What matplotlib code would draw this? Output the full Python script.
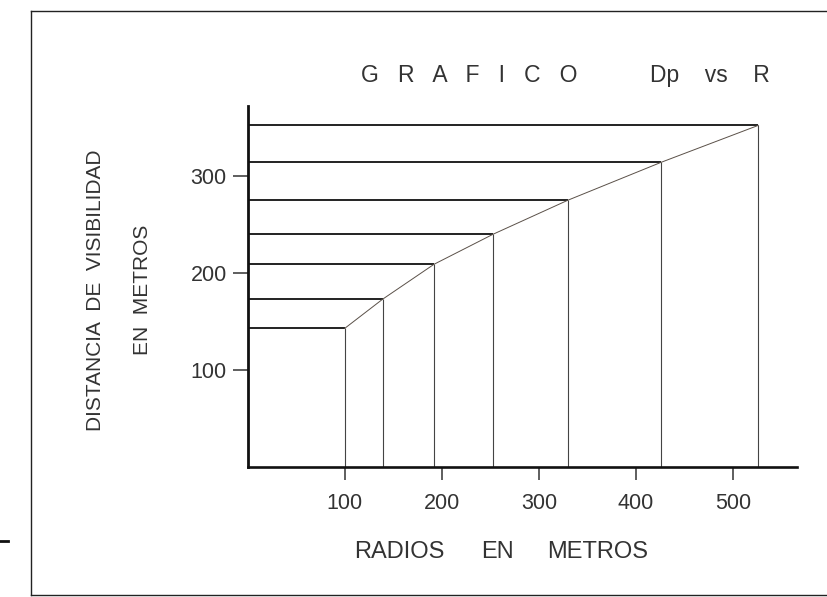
import matplotlib
matplotlib.use("Agg")
import matplotlib.pyplot as plt
from matplotlib.lines import Line2D

# radio de curva (m) vs distancia de visibilidad (m)
radios = [100, 139, 192, 253, 330, 426, 526]
distancia = [143, 173, 209, 240, 275, 314, 352]
xticks = [100, 200, 300, 400, 500]
yticks = [100, 200, 300]

plt.rcParams['font.family'] = ['Liberation Sans', 'DejaVu Sans']

W, H = 827, 597
fig = plt.figure(figsize=(W / 100, H / 100), dpi=100)


def px(x, y):
    # pixel coords (from top-left) -> figure fraction
    return x / W, 1 - y / H


# axes box: x axis from px 247.7 to 797, y axis from 467.2 up to 106
ax = fig.add_axes([247.7 / W, (H - 467.2) / H, (797 - 247.7) / W, (467.2 - 106) / H])
ax.set_xlim(0, 566)
ax.set_ylim(0, 372)

ax.hlines(distancia, 0, radios, colors='#111111', lw=1.3)
ax.vlines(radios, 0, distancia, colors='#444444', lw=0.8)
ax.plot(radios, distancia, color='#5a5048', lw=0.7)

for s in ['top', 'right']:
    ax.spines[s].set_visible(False)
ax.spines['left'].set_linewidth(2.0)
ax.spines['bottom'].set_linewidth(1.9)
ax.spines['left'].set_color('#111111')
ax.spines['bottom'].set_color('#111111')

ax.set_xticks(xticks)
ax.set_yticks(yticks)
ax.tick_params(axis='x', length=9.4, width=1.1, pad=9, labelsize=15.5, labelcolor='#333333', color='#333333')
ax.tick_params(axis='y', length=10.8, width=1.1, pad=4.3, labelsize=15.5, labelcolor='#333333', color='#333333')

# titulo
x0, y0 = px(361, 81.7)
fig.text(x0, y0, "G   R   A   F   I   C   O", fontsize=16.5, color='#333333', ha='left', va='baseline')
x0, y0 = px(650, 81.7)
fig.text(x0, y0, "Dp    vs    R", fontsize=16.5, color='#333333', ha='left', va='baseline')

# etiqueta eje x
for word, cx in [("RADIOS", 399), ("EN", 497), ("METROS", 598)]:
    x0, y0 = px(cx, 558)
    fig.text(x0, y0, word, fontsize=17, color='#333333', ha='center', va='baseline')

# etiqueta eje y
x0, y0 = px(96, 290)
fig.text(x0, y0, "DISTANCIA  DE  VISIBILIDAD", fontsize=15, color='#333333', rotation=90, ha='center', va='center')
x0, y0 = px(142, 290)
fig.text(x0, y0, "EN  METROS", fontsize=15, color='#333333', rotation=90, ha='center', va='center')

# marco de la hoja
frame = [((31, 11), (W, 11)), ((31, 11), (31, 595)), ((31, 595), (W, 595))]
for (xa, ya), (xb, yb) in frame:
    (fx0, fy0), (fx1, fy1) = px(xa, ya), px(xb, yb)
    fig.add_artist(Line2D([fx0, fx1], [fy0, fy1], transform=fig.transFigure, color='#222222', lw=1.0))
# marca suelta a la izquierda
(fx0, fy0), (fx1, fy1) = px(0, 541), px(8, 541)
fig.add_artist(Line2D([fx0, fx1], [fy0, fy1], transform=fig.transFigure, color='#111111', lw=2.0))

fig.savefig("out.png", dpi=100, facecolor='white')
